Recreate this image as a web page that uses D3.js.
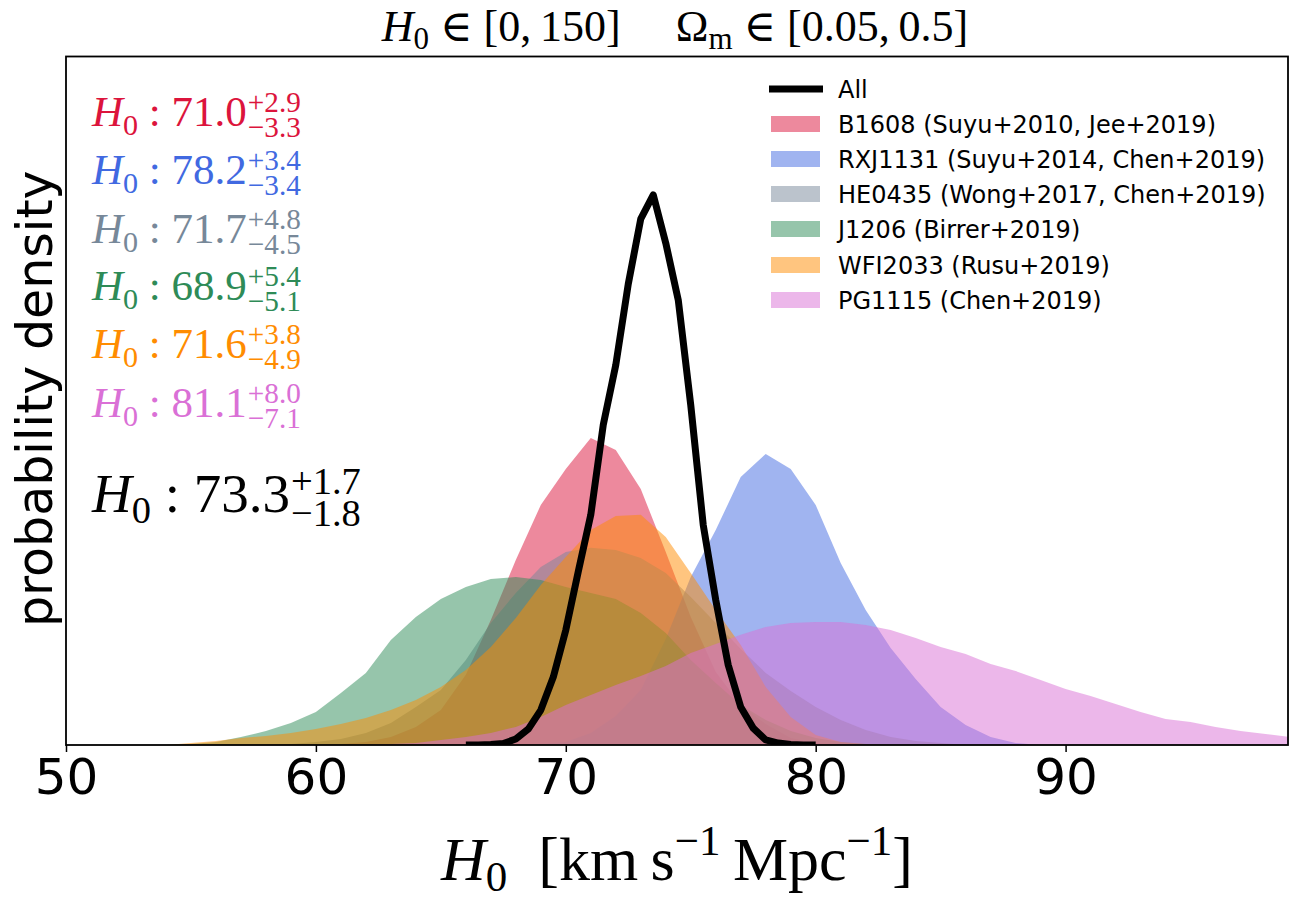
<!DOCTYPE html>
<html>
<head>
<meta charset="utf-8">
<script src="https://cdn.jsdelivr.net/npm/d3@7"></script>
<style>
  html, body { margin: 0; padding: 0; background: #fff; }
  svg { display: block; }
</style>
</head>
<body>
<svg id="chart" width="1298" height="900"></svg>
<script>
// ---------------- data ----------------
const h0Grid = [50,51,52,53,54,55,56,57,58,59,60,61,62,63,64,65,66,67,68,69,70,71,72,73,74,75,76,77,78,79,80,81,82,83,84,85,86,87,88,89,90,91,92,93,94,95,96,97,98,99];

const seriesNames = [
  "B1608 (Suyu+2010, Jee+2019)",
  "RXJ1131 (Suyu+2014, Chen+2019)",
  "HE0435 (Wong+2017, Chen+2019)",
  "J1206 (Birrer+2019)",
  "WFI2033 (Rusu+2019)",
  "PG1115 (Chen+2019)"
];
const seriesColors = ["crimson", "royalblue", "lightslategray", "seagreen", "darkorange", "orchid"];

const b1608 = [0,0,0,0,0,0,0,0,0,0,0,
  0.0004,0.0012,0.0033,0.0075,0.0145,0.0291,0.0519,0.0768,0.0996,0.1145,
  0.1274,0.1224,0.1062,0.0801,0.0531,0.0303,0.0166,0.0087,0.0029,0.0008,
  0,0,0,0,0,0,0,0,0,0,0,0,0,0,0,0,0,0,0];
const rxj1131 = [0,0,0,0,0,0,0,0,0,0,0,0,0,0,0,0,0,0,0,
  0.0004,0.0012,0.0050,0.0120,0.0228,0.0440,0.0697,0.0892,0.1112,0.1208,
  0.1145,0.0996,0.0755,0.0560,0.0403,0.0274,0.0158,0.0083,0.0033,0.0008,
  0,0,0,0,0,0,0,0,0,0,0];
const he0435 = [0,0,0,0,0,0,0,0,0,
  0.0004,0.0012,0.0025,0.0050,0.0091,0.0158,0.0228,0.0353,0.0506,0.0631,
  0.0739,0.0801,0.0818,0.0809,0.0776,0.0714,0.0614,0.0506,0.0398,0.0299,
  0.0224,0.0158,0.0104,0.0062,0.0033,0.0017,0.0008,
  0,0,0,0,0,0,0,0,0,0,0,0,0,0];
const j1206 = [0,0,0,0,0,
  0.0004,0.0012,0.0033,0.0058,0.0091,0.0137,0.0216,0.0299,0.0436,0.0531,
  0.0606,0.0656,0.0689,0.0697,0.0685,0.0656,0.0631,0.0606,0.0548,0.0465,
  0.0353,0.0257,0.0166,0.0104,0.0058,0.0029,0.0012,0.0004,
  0,0,0,0,0,0,0,0,0,0,0,0,0,0,0,0,0];
const wfi2033 = [0,0,0,0,0,
  0.0008,0.0017,0.0029,0.0037,0.0050,0.0066,0.0087,0.0112,0.0145,0.0187,
  0.0241,0.0311,0.0407,0.0527,0.0664,0.0780,0.0892,0.0950,0.0955,0.0863,
  0.0714,0.0560,0.0415,0.0241,0.0116,0.0042,0.0012,0.0004,
  0,0,0,0,0,0,0,0,0,0,0,0,0,0,0,0,0];
const pg1115 = [0,0,0,0,0,0,0,0,0,0,0,0,0,
  0.0004,0.0008,0.0021,0.0033,0.0050,0.0075,0.0116,0.0166,0.0208,0.0249,
  0.0286,0.0328,0.0382,0.0419,0.0457,0.0490,0.0506,0.0510,0.0510,0.0498,
  0.0477,0.0444,0.0407,0.0378,0.0336,0.0307,0.0270,0.0232,0.0203,0.0170,
  0.0137,0.0108,0.0095,0.0075,0.0058,0.0046,0.0033];

const allH0 = [66,66.5,67,67.5,68,68.5,69,69.5,70,70.5,71,71.5,72,72.5,73,73.5,74,74.5,75,75.5,76,76.5,77,77.5,78,78.5,79,79.5,80];
const allDensity = [0,0,0.0002,0.0006,0.0025,0.0066,0.0145,0.0282,0.0477,0.0720,0.0955,0.1329,0.1577,0.1913,0.2183,0.2283,0.2083,0.1847,0.1411,0.0913,0.0602,0.0332,0.0158,0.0070,0.0021,0.0008,0.0002,0,0];

const medians = ["71.0","78.2","71.7","68.9","71.6","81.1"];
const plusErr = ["2.9","3.4","4.8","5.4","3.8","8.0"];
const minusErr = ["3.3","3.4","4.5","5.1","4.9","7.1"];
const allMedian = "73.3", allPlus = "1.7", allMinus = "1.8";

const xTicks = [50, 60, 70, 80, 90];
const xDomain = [50, 98.9];
const yDomain = [0, 0.2857];

// ---------------- drawing ----------------
const svg = d3.select("#chart");
const L = 66, R = 1288, T = 56.5, B = 745;
const serif = "'Liberation Serif', 'DejaVu Serif', serif";
const sans = "'DejaVu Sans', sans-serif";

const x = d3.scaleLinear().domain(xDomain).range([L, R]);
const y = d3.scaleLinear().domain(yDomain).range([B, T]);

svg.append("defs").append("clipPath").attr("id", "plotclip")
  .append("rect").attr("x", L).attr("y", T).attr("width", R - L).attr("height", B - T);

const plot = svg.append("g").attr("clip-path", "url(#plotclip)");

const seriesData = [b1608, rxj1131, he0435, j1206, wfi2033, pg1115];
const area = d3.area().x(d => x(d[0])).y0(y(0)).y1(d => y(d[1]));

seriesData.forEach((vals, i) => {
  const pts = h0Grid.map((h, k) => [h, vals[k]]);
  plot.append("path").datum(pts)
    .attr("d", area)
    .attr("fill", seriesColors[i])
    .attr("fill-opacity", 0.5);
});

const line = d3.line().x(d => x(d[0])).y(d => y(d[1]));
plot.append("path").datum(allH0.map((h, k) => [h, allDensity[k]]))
  .attr("d", line)
  .attr("fill", "none")
  .attr("stroke", "black")
  .attr("stroke-width", 7)
  .attr("stroke-linejoin", "round");

// frame
svg.append("rect").attr("x", L).attr("y", T).attr("width", R - L).attr("height", B - T)
  .attr("fill", "none").attr("stroke", "black").attr("stroke-width", 1.8);

// x axis
const xAxis = d3.axisBottom(x).tickValues(xTicks).tickSize(7).tickPadding(6).tickFormat(d3.format("d"));
const gx = svg.append("g").attr("transform", `translate(0,${B})`).call(xAxis);
gx.select(".domain").remove();
gx.selectAll(".tick line").attr("stroke", "black").attr("stroke-width", 1.5);
gx.selectAll(".tick text").attr("fill", "black").style("font-family", sans).style("font-size", "50px");

// y label
svg.append("text")
  .attr("transform", `translate(52,${(T + B) / 2 - 2}) rotate(-90)`)
  .attr("text-anchor", "middle")
  .style("font-family", sans).style("font-size", "49px")
  .text("probability density");

// title
const title = svg.append("text").attr("x", (L + R) / 2 - 2).attr("y", 41)
  .attr("text-anchor", "middle").style("font-family", serif).style("font-size", "44px");
title.append("tspan").style("font-style", "italic").text("H");
title.append("tspan").attr("dy", 8).style("font-size", "31px").text("0");
title.append("tspan").attr("dy", -8).text("\u2005\u2208\u2005[0,\u2009150]");
title.append("tspan").text("\u2003\u2005\u03A9");
title.append("tspan").attr("dy", 8).style("font-size", "31px").text("m");
title.append("tspan").attr("dy", -8).text("\u2005\u2208\u2005[0.05,\u20090.5]");

// x label
const xl = svg.append("text").attr("x", (L + R) / 2).attr("y", 880)
  .attr("text-anchor", "middle").style("font-family", serif).style("font-size", "62px");
xl.append("tspan").style("font-style", "italic").text("H");
xl.append("tspan").attr("dy", 11).style("font-size", "43px").text("0");
xl.append("tspan").attr("dy", -11).text("\u2002[km\u2009s");
xl.append("tspan").attr("dy", -25).style("font-size", "43px").text("\u22121");
xl.append("tspan").attr("dy", 25).text("\u2009Mpc");
xl.append("tspan").attr("dy", -25).style("font-size", "43px").text("\u22121");
xl.append("tspan").attr("dy", 25).text("]");

// annotations (one text element each; scripts stacked as positioned tspans)
function mathLabel(px, py, med, plus, minus, color, size, sfac) {
  const t = svg.append("text").attr("x", px).attr("y", py)
    .attr("fill", color).style("font-family", serif).style("font-size", size + "px");
  t.append("tspan").style("font-style", "italic").text("H");
  t.append("tspan").attr("dy", size * 0.2).style("font-size", (size * 0.7) + "px").text("0");
  t.append("tspan").attr("dy", -size * 0.2).text("\u2005:\u2005" + med);
  const w = t.node().getComputedTextLength();
  const ss = size * sfac;
  t.append("tspan").attr("x", px + w + 1).attr("y", py - size * 0.33).style("font-size", ss + "px").text("+" + plus);
  t.append("tspan").attr("x", px + w + 1).attr("y", py + size * 0.26).style("font-size", ss + "px").text("\u2212" + minus);
}
const rowY = [126, 184, 243, 300, 358, 417];
seriesColors.forEach((c, i) => {
  mathLabel(92, rowY[i], medians[i], plusErr[i], minusErr[i], c, 43, 0.68);
});
mathLabel(92, 512, allMedian, allPlus, allMinus, "black", 55, 0.7);

// legend
const legY = [89, 124, 159, 194, 229, 265, 300];
const lg = svg.append("g").style("font-family", sans).style("font-size", "24px");
lg.append("line").attr("x1", 769).attr("x2", 823).attr("y1", legY[0]).attr("y2", legY[0])
  .attr("stroke", "black").attr("stroke-width", 7);
lg.append("text").attr("x", 838).attr("y", legY[0]).attr("dy", "0.36em").text("All");
seriesNames.forEach((n, i) => {
  lg.append("rect").attr("x", 771).attr("y", legY[i + 1] - 8).attr("width", 49).attr("height", 16)
    .attr("fill", seriesColors[i]).attr("fill-opacity", 0.5);
  lg.append("text").attr("x", 838).attr("y", legY[i + 1]).attr("dy", "0.36em").text(n);
});
</script>
</body>
</html>
